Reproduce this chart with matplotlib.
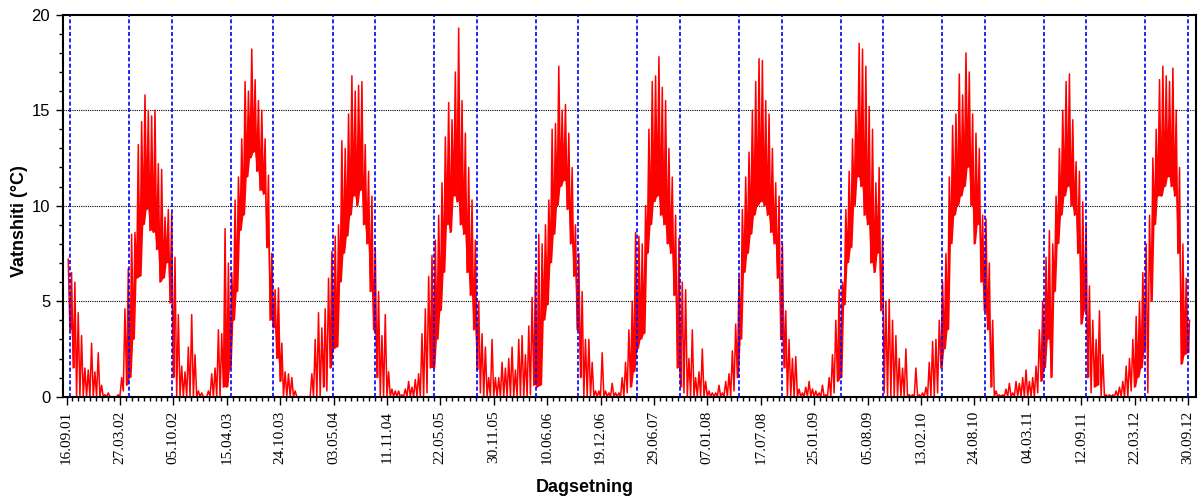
import numpy as np
import pandas as pd
import matplotlib
matplotlib.use("Agg")
import matplotlib.pyplot as plt
import matplotlib.dates as mdates

nan = np.nan

# readings per 12-day block, starting 16.09.2001 (low / high in each block)
# each list = winter half (16 blocks) + summer half (16 blocks)
hi_2002 = [7.2, 6.5, 6.0, 4.4, 3.2, 1.5, 1.4, 2.8, 1.3, 2.3, 0.6, 0.1, 0.2, 0.0, 0.0, 0.1,
           1.0, 4.6, 6.7, 8.5, 8.6, 13.2, 14.4, 15.8, 15.0, 14.7, 15.0, 12.2, 11.9, 9.4, 9.8, 9.6]
lo_2002 = [nan, 3.5, 1.5, 0, 0, 0, 0, 0, 0, 0, 0, 0, 0, 0, 0, 0,
           0.0, 0.3, 0.6, 1.0, 3.0, 6.2, 6.3, 9.0, 9.8, 8.7, 8.6, 7.7, 6.0, 6.2, 7.0, 4.9]
hi_2003 = [7.3, 4.3, 1.6, 1.3, 2.6, 4.3, 2.2, 0.3, 0.2, 0.0, 0.3, 1.2, 1.5, 3.5, 3.3, 8.8,
           7.0, 6.5, 10.3, 11.5, 13.5, 16.5, 16.0, 18.2, 16.6, 15.5, 15.0, 13.5, 11.6, 7.5, 5.6, 5.7]
lo_2003 = [1.0, 0, 0, 0, 0, 0, 0, 0, 0, 0, 0, 0, 0, 0, 0, 0.5,
           0.5, 1.5, 4.0, 5.5, 8.7, 9.5, 11.5, 12.5, 12.8, 11.8, 10.8, 10.6, 7.8, 4.0, 3.6, 2.0]
hi_2004 = [2.8, 1.3, 1.2, 1.0, 0.3, 0, 0, 0, 0, 1.2, 3.0, 4.4, 3.6, 4.6, 6.2, 7.6,
           8.4, 9.0, 13.4, 13.0, 14.8, 16.8, 16.0, 16.3, 16.5, 13.2, 11.8, 10.5, 7.8, 5.5, 3.2, 4.3]
lo_2004 = [0.8, 0, 0, 0, 0, 0, 0, 0, 0, 0, 0, 0, 0, 0.5, 0.3, 1.5,
           2.5, 2.6, 6.0, 7.5, 8.4, 9.5, 10.5, 10.0, 10.8, 9.0, 8.0, 5.5, 3.5, 1.0, 0, 0]
hi_2005 = [1.3, 0.4, 0.3, 0.3, 0.1, 0.4, 0.8, 0.5, 0.9, 1.2, 3.3, 4.6, 6.3, 7.4, 8.2, 9.5,
           11.2, 13.6, 15.4, 14.5, 17.0, 19.3, 15.5, 13.8, 12.0, 10.3, 8.2, 5.0, 3.3, 2.6, 1.0, 3.0]
lo_2005 = [0, 0, 0, 0, 0, 0, 0, 0, 0, 0, 0, 0, 0.2, 1.5, 1.5, 3.0,
           4.5, 6.5, 9.0, 8.6, 10.5, 10.2, 9.0, 8.5, 6.5, 5.3, 3.5, 1.4, 0.2, 0, 0, 0]
hi_2006 = [1.0, 1.0, 1.8, 1.5, 2.0, 2.6, 1.4, 3.0, 3.2, 2.2, 3.7, 5.2, 6.5, 8.5, 8.0, 9.0,
           10.3, 14.0, 14.3, 17.3, 15.0, 15.3, 13.8, 12.0, 9.0, 7.5, 5.5, 3.0, 3.0, 1.8, 0.3, 0.3]
lo_2006 = [0, 0, 0, 0, 0, 0, 0, 0, 0, 0, 0, 0.1, 0.6, 0.5, 0.6, 4.0,
           4.8, 7.0, 8.5, 10.0, 11.0, 11.3, 9.8, 8.0, 6.3, 3.5, 1.0, 0, 0, 0, 0, 0]
hi_2007 = [2.3, 0.3, 0.2, 0.7, 0.2, 0.2, 1.0, 1.8, 3.5, 5.0, 8.6, 8.4, 8.0, 10.0, 14.0, 16.5,
           16.8, 17.8, 16.2, 15.5, 13.0, 11.5, 9.5, 8.3, 6.0, 5.6, 2.0, 3.5, 1.0, 1.3, 2.5, 0.8]
lo_2007 = [0, 0, 0, 0, 0, 0, 0, 0, 0.2, 0.5, 1.3, 2.5, 3.0, 3.3, 7.5, 9.0,
           10.2, 10.5, 9.5, 9.0, 8.0, 7.5, 5.3, 1.5, 0.5, 0.2, 0, 0, 0, 0, 0, 0]
hi_2008 = [0.3, 0.2, 0.2, 0.6, 0.2, 0.8, 1.2, 2.4, 3.8, 6.3, 9.8, 11.5, 12.8, 15.0, 16.5, 17.7,
           17.6, 15.5, 14.8, 13.0, 11.2, 10.5, 8.0, 4.5, 3.0, 2.0, 2.1, 0.4, 0.2, 0.5, 0.8, 0.4]
lo_2008 = [0, 0, 0, 0, 0, 0, 0, 0, 0.3, 1.0, 3.0, 6.5, 7.5, 8.5, 9.5, 10.0,
           10.2, 10.0, 9.5, 8.6, 8.0, 6.2, 3.0, 1.5, 0, 0, 0, 0, 0, 0, 0, 0]
hi_2009 = [0.3, 0.2, 0.6, 0.1, 1.0, 2.2, 4.0, 5.6, 6.0, 9.8, 11.8, 13.5, 15.0, 18.5, 18.2, 17.3,
           15.2, 14.0, 11.2, 12.0, 8.3, 5.0, 5.1, 4.0, 3.2, 2.0, 1.5, 2.5, 0.1, 0.1, 1.5, 0.1]
lo_2009 = [0, 0, 0, 0, 0, 0, 0.2, 0.8, 1.0, 4.8, 7.0, 7.8, 10.0, 11.5, 11.0, 9.5,
           9.0, 7.0, 6.5, 7.5, 4.5, 0.2, 0, 0, 0, 0, 0, 0, 0, 0, 0, 0]
hi_2010 = [0.2, 0.5, 1.8, 2.9, 3.0, 4.0, 6.0, 7.5, 11.5, 14.2, 14.8, 16.9, 15.8, 18.0, 17.0, 14.8,
           13.8, 13.0, 9.5, 9.3, 7.0, 4.0, 0.3, 0.1, 0.1, 0.4, 0.7, 0.2, 0.8, 0.7, 1.0, 1.4]
lo_2010 = [0, 0, 0, 0, 0, 0.2, 1.5, 2.5, 3.5, 8.0, 9.5, 10.0, 10.5, 11.0, 12.0, 10.0,
           8.0, 9.0, 6.0, 4.5, 3.5, 0.5, 0, 0, 0, 0, 0, 0, 0, 0, 0, 0]
hi_2011 = [0.8, 1.0, 1.6, 3.5, 5.0, 7.3, 8.7, 8.0, 10.5, 13.0, 15.0, 16.5, 16.9, 14.5, 12.3, 11.8,
           10.2, 9.0, 5.8, 4.0, 3.0, 4.5, 2.2, 0.1, 0.1, 0.1, 0.3, 0.5, 0.8, 1.6, 2.0, 3.0]
lo_2011 = [0, 0, 0, 0.2, 0.8, 1.5, 3.0, 1.0, 5.5, 8.0, 9.5, 10.5, 11.0, 10.0, 9.5, 7.5,
           3.8, 4.5, 1.0, 0.2, 0.5, 0.6, 0, 0, 0, 0, 0, 0, 0, 0, 0, 0.3]
hi_2012 = [4.2, 5.0, 6.5, 8.0, 9.5, 12.5, 14.0, 16.6, 17.3, 16.8, 16.5, 17.2, 15.0, 12.0, 8.0, 6.2, 4.0]
lo_2012 = [0.5, 1.0, 1.5, 2.5, 0.2, 5.0, 9.0, 10.5, 10.5, 11.0, 11.5, 11.0, 10.5, 7.5, 1.7, 2.2, 2.3]

tick_dates = pd.date_range("2001-09-16", periods=22, freq="192D")
season_years = list(range(2001, 2013))

hi = hi_2002 + hi_2003 + hi_2004 + hi_2005 + hi_2006 + hi_2007 + hi_2008 + hi_2009 + hi_2010 + hi_2011 + hi_2012
lo = lo_2002 + lo_2003 + lo_2004 + lo_2005 + lo_2006 + lo_2007 + lo_2008 + lo_2009 + lo_2010 + lo_2011 + lo_2012
n = len(hi)
t_lo = pd.Timestamp("2001-09-16") + pd.to_timedelta(np.arange(n) * 12, unit="D")
t_hi = t_lo + pd.Timedelta(days=6)
t = np.empty(2 * n, dtype="datetime64[ns]")
t[0::2] = t_lo.values
t[1::2] = t_hi.values
v = np.empty(2 * n)
v[0::2] = lo
v[1::2] = hi

# band under the spikes, only where the record is dense
band_lo = np.repeat(np.array(lo, dtype=float), 2)

fig = plt.figure(figsize=(11.98, 5.0), dpi=100)
ax = fig.add_axes([0.0523, 0.2066, 0.9460, 0.7640])

ax.fill_between(t, band_lo, v, where=band_lo > 0.4, color="#ff0000", lw=0, zorder=2)
ax.plot(t, v, color="#ff0000", lw=1.1, zorder=2)

for y in [5, 10, 15]:
    ax.axhline(y, color="black", lw=0.8, ls=(0, (1, 1)), zorder=1)

marks = []
for yr in season_years:
    if yr > 2001:
        marks.append(pd.Timestamp(yr, 4, 30))
    marks.append(pd.Timestamp(yr, 9, 30))
for m in marks:
    ax.axvline(m, color="#0000ff", lw=1.2, ls=(0, (2.4, 1.4)), zorder=3)

ax.set_xlim(pd.Timestamp("2001-09-02"), pd.Timestamp("2012-10-29"))
ax.set_ylim(0, 20)

ax.set_xticks(tick_dates, [d.strftime("%d.%m.%y") for d in tick_dates],
              rotation=90, fontfamily="Liberation Serif", fontsize=11)
t0 = mdates.date2num(tick_dates[0])
ax.set_xticks(t0 + np.arange(0, 21 * 192 + 1, 192 / 9), minor=True)
ax.set_yticks([0, 5, 10, 15, 20])
ax.set_yticks(np.arange(0, 21, 1), minor=True)
for lab in ax.get_yticklabels():
    lab.set_fontfamily("Liberation Sans")
    lab.set_fontsize(12)

ax.tick_params(axis="x", which="major", length=6, width=1, pad=4)
ax.tick_params(axis="x", which="minor", length=3, width=1)
ax.tick_params(axis="y", which="major", length=5, width=1, pad=4)
ax.tick_params(axis="y", which="minor", length=3, width=1)
for s in ax.spines.values():
    s.set_linewidth(1.5)

fig.text(0.0159, 1 - 221 / 500, "Vatnshiti (°C)", rotation=90, ha="center", va="center",
         fontsize=13, fontweight="bold", fontfamily="Liberation Sans")
fig.text(585 / 1198, 1 - 487 / 500, "Dagsetning", ha="center", va="center",
         fontsize=13, fontweight="bold", fontfamily="Liberation Sans")

fig.savefig("out.png", dpi=100)
